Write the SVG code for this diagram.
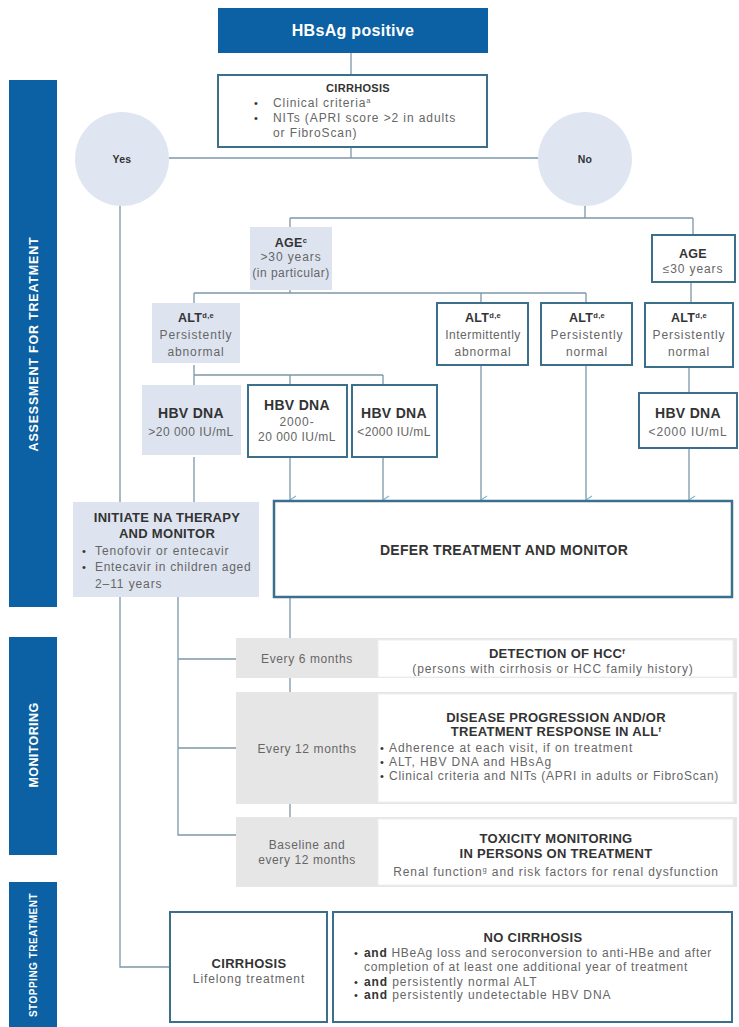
<svg xmlns="http://www.w3.org/2000/svg" width="739" height="1027" viewBox="0 0 739 1027">
<defs>
<style>
text{font-family:"Liberation Sans",Arial,sans-serif;}
.h{font-weight:bold;font-size:13px;fill:#333;text-anchor:middle;letter-spacing:0.3px;}
.h12{font-size:12.5px;}
.h14{font-size:14px;}
.t{font-size:12px;fill:#666;text-anchor:middle;letter-spacing:0.9px;}
.tl{font-size:12px;fill:#666;letter-spacing:0.9px;}
.b{font-size:11px;fill:#333;}
.sup{font-size:7.5px;}
.side{fill:#0b61a4;}
.sidet{font-weight:bold;font-size:12.5px;fill:#fff;text-anchor:middle;letter-spacing:0.8px;}
.box{fill:#fff;stroke:#3c6f8c;stroke-width:2;}
.fill{fill:#dde4f0;}
.gray{fill:#e6e6e6;}
.wbox{fill:#fff;stroke:#eee;stroke-width:1;}
.ln{fill:none;stroke:#7d97a8;stroke-width:1.3;}
.ar{fill:none;stroke:#7d97a8;stroke-width:1.3;marker-end:url(#ah);}
</style>
<marker id="ah" markerWidth="10" markerHeight="8" refX="5" refY="7" orient="auto-start-reverse" markerUnits="userSpaceOnUse" viewBox="0 0 10 8">
<path d="M1,1 L5,7 L9,1" fill="none" stroke="#7fb8dc" stroke-width="1.3"/>
</marker>
</defs>
<rect width="739" height="1027" fill="#fff"/>

<g id="sidebars">
<rect class="side" x="9" y="80" width="48" height="527"/>
<text class="sidet" transform="translate(38,344) rotate(-90)">ASSESSMENT FOR TREATMENT</text>
<rect class="side" x="9" y="637" width="48" height="218"/>
<text class="sidet" transform="translate(38,745) rotate(-90)" style="letter-spacing:0.4px">MONITORING</text>
<rect class="side" x="9" y="882" width="48" height="160"/>
<text class="sidet" transform="translate(37,955) rotate(-90)" style="font-size:10px;letter-spacing:0.5px">STOPPING TREATMENT</text>
</g>

<g id="connectors">
<path class="ln" d="M351,53 V75"/>
<path class="ln" d="M351,147 V158"/>
<path class="ln" d="M169,158 H538"/>
<path class="ln" d="M585,206 V218 M290,218 H693 M290,218 V227 M693,218 V235"/>
<path class="ln" d="M290,290 V293 M194,293 H586 M194,293 V303 M481,293 V303 M586,293 V303"/>
<path class="ln" d="M691,282 V303"/>
<path class="ln" d="M194,365 V375 M194,375 H383 M194,375 V385 M290,375 V385 M383,375 V385"/>
<path class="ln" d="M689,367 V393"/>
<path class="ar" d="M290,457 V500"/>
<path class="ar" d="M383,457 V500"/>
<path class="ar" d="M481,365 V500"/>
<path class="ar" d="M586,365 V500"/>
<path class="ar" d="M689,448 V500"/>
<path class="ln" d="M194,457 V502"/>
<path class="ln" d="M120,206 V967 H170"/>
<path class="ln" d="M290,597 V638 M290,678 V692 M290,804 V817"/>
<path class="ln" d="M178,597 V835 H236 M178,659 H236 M178,748 H236"/>
</g>

<g id="hbsag">
<rect x="218" y="8" width="270" height="45" fill="#0b61a4"/>
<text x="353" y="36" font-weight="bold" font-size="16" letter-spacing="0.3" fill="#fff" text-anchor="middle">HBsAg positive</text>
</g>

<g id="cirrhosis-q">
<rect class="box" x="218" y="75" width="269" height="72"/>
<text class="h" x="358" y="92" style="font-size:11px">CIRRHOSIS</text>
<text class="b" x="254" y="107">•</text><text class="tl" x="273" y="107">Clinical criteria<tspan class="sup" dy="-4">a</tspan></text>
<text class="b" x="254" y="122">•</text><text class="tl" x="273" y="122">NITs (APRI score &gt;2 in adults</text>
<text class="tl" x="273" y="137">or FibroScan)</text>
</g>

<g id="yes">
<circle cx="122" cy="159" r="47" fill="#dfe6f2"/>
<text class="h" x="122" y="163" style="font-size:10.5px">Yes</text>
</g>
<g id="no">
<circle cx="585" cy="159" r="47" fill="#dfe6f2"/>
<text class="h" x="585" y="163" style="font-size:10.5px">No</text>
</g>

<g id="age-gt30">
<rect class="fill" x="250" y="227" width="82" height="63"/>
<text class="h h12" x="291" y="247">AGE<tspan class="sup" dy="-4">c</tspan></text>
<text class="t" x="291" y="261">&gt;30 years</text>
<text class="t" x="291" y="277" style="letter-spacing:0.5px">(in particular)</text>
</g>

<g id="age-le30">
<rect class="box" x="652" y="235" width="83" height="47"/>
<text class="h h12" x="693" y="258">AGE</text>
<text class="t" x="693" y="273">≤30 years</text>
</g>

<g id="alt-abn">
<rect class="fill" x="152" y="303" width="88" height="60"/>
<text class="h h12" x="196" y="322">ALT<tspan class="sup" dy="-4">d,e</tspan></text>
<text class="t" x="196" y="339">Persistently</text>
<text class="t" x="196" y="356">abnormal</text>
</g>

<g id="alt-int">
<rect class="box" x="437" y="303" width="91" height="62"/>
<text class="h h12" x="483" y="322">ALT<tspan class="sup" dy="-4">d,e</tspan></text>
<text class="t" x="483" y="339" style="letter-spacing:0.5px">Intermittently</text>
<text class="t" x="483" y="356">abnormal</text>
</g>

<g id="alt-norm">
<rect class="box" x="541" y="303" width="91" height="62"/>
<text class="h h12" x="587" y="322">ALT<tspan class="sup" dy="-4">d,e</tspan></text>
<text class="t" x="587" y="339">Persistently</text>
<text class="t" x="587" y="356">normal</text>
</g>

<g id="alt-norm-young">
<rect class="box" x="645" y="303" width="88" height="64"/>
<text class="h h12" x="689" y="322">ALT<tspan class="sup" dy="-4">d,e</tspan></text>
<text class="t" x="689" y="339">Persistently</text>
<text class="t" x="689" y="356">normal</text>
</g>

<g id="dna-high">
<rect class="fill" x="142" y="385" width="99" height="70"/>
<text class="h h14" x="191" y="418">HBV DNA</text>
<text class="t" x="191" y="436" style="letter-spacing:0.5px">&gt;20 000 IU/mL</text>
</g>

<g id="dna-mid">
<rect class="box" x="248" y="385" width="99" height="72"/>
<text class="h h14" x="297" y="410">HBV DNA</text>
<text class="t" x="297" y="426">2000-</text>
<text class="t" x="297" y="441" style="letter-spacing:0.5px">20 000 IU/mL</text>
</g>

<g id="dna-low">
<rect class="box" x="352" y="385" width="85" height="72"/>
<text class="h h14" x="394" y="418">HBV DNA</text>
<text class="t" x="394" y="436" style="letter-spacing:0.4px">&lt;2000 IU/mL</text>
</g>

<g id="dna-low-young">
<rect class="box" x="639" y="393" width="98" height="55"/>
<text class="h h14" x="688" y="418">HBV DNA</text>
<text class="t" x="688" y="436">&lt;2000 IU/mL</text>
</g>

<g id="initiate">
<rect class="fill" x="73" y="502" width="186" height="95"/>
<text class="h" x="167" y="522">INITIATE NA THERAPY</text>
<text class="h" x="167" y="538">AND MONITOR</text>
<text class="b" x="82" y="555">•</text><text class="tl" x="95" y="555">Tenofovir or entecavir</text>
<text class="b" x="82" y="571">•</text><text class="tl" x="95" y="571" style="letter-spacing:0.7px">Entecavir in children aged</text>
<text class="tl" x="95" y="588">2–11 years</text>
</g>

<g id="defer">
<rect x="274" y="501" width="458" height="96" fill="#fff" stroke="#3c6f8c" stroke-width="2.5"/>
<text class="h h14" x="504" y="555">DEFER TREATMENT AND MONITOR</text>
</g>

<g id="hcc">
<rect class="gray" x="236" y="638" width="501" height="40"/>
<rect class="wbox" x="378" y="640" width="355" height="37"/>
<text class="t" x="307" y="663" style="letter-spacing:0.6px">Every 6 months</text>
<text class="h" x="557" y="658">DETECTION OF HCC<tspan class="sup" dy="-4">f</tspan></text>
<text class="t" x="553" y="673">(persons with cirrhosis or HCC family history)</text>
</g>

<g id="progression">
<rect class="gray" x="236" y="692" width="501" height="112"/>
<rect class="wbox" x="378" y="694" width="355" height="108"/>
<text class="t" x="307" y="753" style="letter-spacing:0.6px">Every 12 months</text>
<text class="h" x="556" y="722">DISEASE PROGRESSION AND/OR</text>
<text class="h" x="556" y="736">TREATMENT RESPONSE IN ALL<tspan class="sup" dy="-4">f</tspan></text>
<text class="b" x="380" y="752">•</text><text class="tl" x="389" y="752">Adherence at each visit, if on treatment</text>
<text class="b" x="380" y="766">•</text><text class="tl" x="389" y="766">ALT, HBV DNA and HBsAg</text>
<text class="b" x="380" y="780">•</text><text class="tl" x="389" y="780" style="letter-spacing:0.75px">Clinical criteria and NITs (APRI in adults or FibroScan)</text>
</g>

<g id="toxicity">
<rect class="gray" x="236" y="817" width="501" height="70"/>
<rect class="wbox" x="378" y="819" width="355" height="66"/>
<text class="t" x="307" y="849" style="letter-spacing:0.6px">Baseline and</text>
<text class="t" x="307" y="864" style="letter-spacing:0.6px">every 12 months</text>
<text class="h" x="556" y="843">TOXICITY MONITORING</text>
<text class="h" x="556" y="858">IN PERSONS ON TREATMENT</text>
<text class="t" x="556" y="876">Renal function<tspan class="sup" dy="-4">g</tspan><tspan dy="4"> and risk factors for renal dysfunction</tspan></text>
</g>

<g id="stop-cirrhosis">
<rect class="box" x="170" y="912" width="157" height="110"/>
<text class="h" x="249" y="968">CIRRHOSIS</text>
<text class="t" x="249" y="983">Lifelong treatment</text>
</g>

<g id="stop-no-cirrhosis">
<rect class="box" x="333" y="912" width="399" height="110"/>
<text class="h" x="533" y="942">NO CIRRHOSIS</text>
<text class="b" x="354" y="957">•</text><text class="tl" x="364" y="957" style="letter-spacing:0.7px"><tspan font-weight="bold" fill="#333">and</tspan> HBeAg loss and seroconversion to anti-HBe and after</text>
<text class="tl" x="364" y="971" style="letter-spacing:0.7px">completion of at least one additional year of treatment</text>
<text class="b" x="354" y="986">•</text><text class="tl" x="364" y="986"><tspan font-weight="bold" fill="#333">and</tspan> persistently normal ALT</text>
<text class="b" x="354" y="999">•</text><text class="tl" x="364" y="999"><tspan font-weight="bold" fill="#333">and</tspan> persistently undetectable HBV DNA</text>
</g>
</svg>
